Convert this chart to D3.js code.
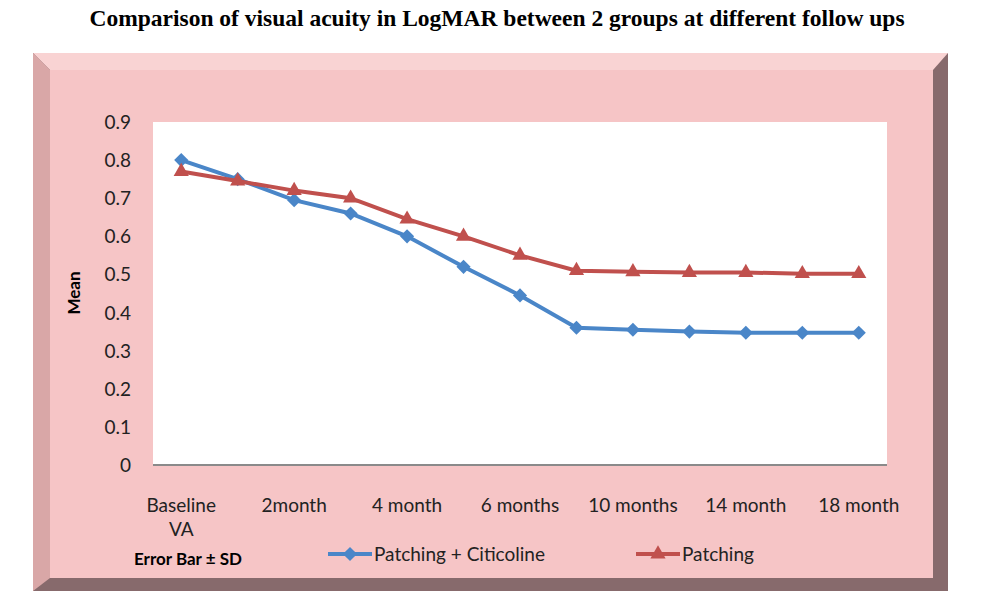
<!DOCTYPE html>
<html><head><meta charset="utf-8">
<script src="https://cdn.jsdelivr.net/npm/d3@7"></script>
<style>body{margin:0;background:#fff}</style>
</head><body><svg></svg>
<script>
const categories = ["Baseline VA","1m","2month","3m","4 month","5m","6 months","8m","10 months","12m","14 month","16m","18 month"];
const shownLabels = ["Baseline VA","2month","4 month","6 months","10 months","14 month","18 month"];
const citicoline = [0.80,0.75,0.695,0.66,0.60,0.52,0.445,0.36,0.355,0.35,0.347,0.347,0.347];
const patching = [0.77,0.745,0.72,0.70,0.645,0.60,0.55,0.51,0.507,0.505,0.505,0.502,0.502];
const yTicks = [0,0.1,0.2,0.3,0.4,0.5,0.6,0.7,0.8,0.9];

const width = 1000, height = 597;
const svg = d3.select("svg").attr("width", width).attr("height", height);
const font = "Lato, 'Open Sans', sans-serif";

// заголовок
svg.append("text").attr("x", 497).attr("y", 26).attr("text-anchor", "middle")
  .style("font-family", "'Liberation Serif', serif").style("font-weight", "bold")
  .style("font-size", "23.5px").text("Comparison of visual acuity in LogMAR between 2 groups at different follow ups");

// рамка с фаской
svg.append("rect").attr("x", 33).attr("y", 53).attr("width", 915).attr("height", 538).attr("fill", "#876a6c");
svg.append("polygon").attr("points", "33,53 948,53 933,70 50,70").attr("fill", "#f9d3d3");
svg.append("polygon").attr("points", "33,53 50,70 50,578 33,591").attr("fill", "#d9a7a7");
svg.append("rect").attr("x", 50).attr("y", 70).attr("width", 883).attr("height", 508).attr("fill", "#f6c5c6");

const plot = {left: 153, right: 887, top: 122, bottom: 465};
svg.append("rect").attr("x", plot.left).attr("y", plot.top)
  .attr("width", plot.right - plot.left).attr("height", plot.bottom - plot.top).attr("fill", "#fff");

const scX = d3.scaleBand().domain(categories).range([plot.left, plot.right]);
const scY = d3.scaleLinear().domain([0, 0.9]).range([plot.bottom, plot.top]);
const cx = d => scX(d) + scX.bandwidth() / 2;

svg.append("line").attr("x1", plot.left).attr("x2", plot.right)
  .attr("y1", plot.bottom).attr("y2", plot.bottom).attr("stroke", "#8a8a8a").attr("stroke-width", 2);

// ось Y
svg.selectAll(".yt").data(yTicks).enter().append("text")
  .attr("x", 131).attr("y", d => scY(d) + 7).attr("text-anchor", "end")
  .style("font-family", font).style("font-size", "19px").attr("fill", "#222")
  .text(d => d === 0 ? "0" : d.toFixed(1));

svg.append("text").attr("transform", "translate(80,293) rotate(-90)").attr("text-anchor", "middle")
  .style("font-family", font).style("font-weight", "bold").style("font-size", "17px").text("Mean");

// ось X
svg.selectAll(".xt").data(shownLabels).enter().append("text")
  .attr("x", d => cx(d)).attr("y", 512).attr("text-anchor", "middle")
  .style("font-family", font).style("font-size", "19px").attr("fill", "#222")
  .each(function(d) {
    const parts = d === "Baseline VA" ? ["Baseline", "VA"] : [d];
    parts.forEach((p, i) => d3.select(this).append("tspan").attr("x", cx(d)).attr("dy", i ? 24 : 0).text(p));
  });

svg.append("text").attr("x", 134).attr("y", 565)
  .style("font-family", font).style("font-weight", "bold").style("font-size", "17px").text("Error Bar ± SD");

// линии
const series = [
  {name: "Patching + Citicoline", values: citicoline, color: "#4a86c8", shape: d3.symbolSquare, rot: 45},
  {name: "Patching", values: patching, color: "#c0504d", shape: d3.symbolTriangle, rot: 0}
];
const line = d3.line().x((d, i) => cx(categories[i])).y(d => scY(d));
series.forEach(s => {
  svg.append("path").datum(s.values).attr("d", line).attr("fill", "none")
    .attr("stroke", s.color).attr("stroke-width", 4);
  svg.selectAll(null).data(s.values).enter().append("path")
    .attr("d", d3.symbol().type(s.shape).size(100))
    .attr("transform", (d, i) => `translate(${cx(categories[i])},${scY(d)}) rotate(${s.rot})`)
    .attr("fill", s.color);
});

// легенда
const legX = [328, 636];
series.forEach((s, i) => {
  const g = svg.append("g").attr("transform", `translate(${legX[i]},554)`);
  g.append("line").attr("x1", 0).attr("x2", 44).attr("stroke", s.color).attr("stroke-width", 4);
  g.append("path").attr("d", d3.symbol().type(s.shape).size(100))
    .attr("transform", `translate(22,0) rotate(${s.rot})`).attr("fill", s.color);
  g.append("text").attr("x", 46).attr("y", 7).style("font-family", font).style("font-size", "19px")
    .attr("fill", "#222").text(s.name);
});
</script></body></html>
